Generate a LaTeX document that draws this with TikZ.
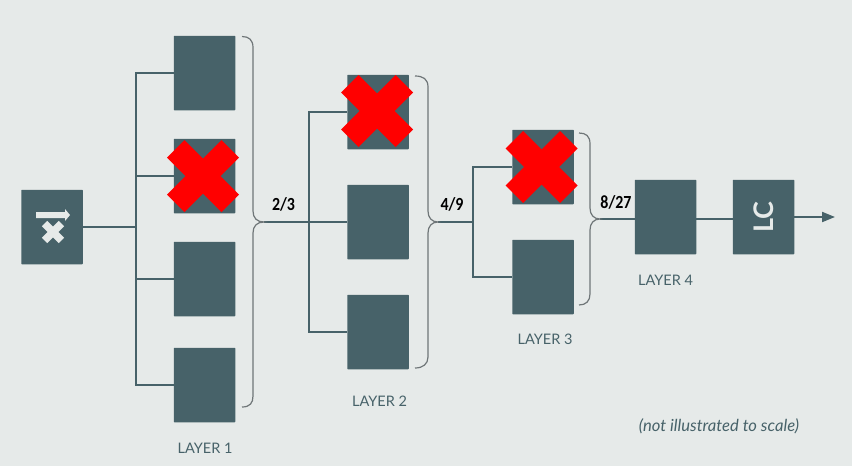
\documentclass[tikz,border=0pt]{standalone}
\usepackage{fontspec}
\setmainfont{Carlito}
\newfontfamily\notefont{Lato}
\newfontfamily\labelfont{Lato}
\usetikzlibrary{arrows.meta}
\definecolor{bgc}{HTML}{E6EAE9}
\definecolor{boxc}{HTML}{476269}
\definecolor{bracec}{HTML}{6F7678}
\tikzset{
  unitbox/.style={draw=none,fill=boxc,rounded corners=0.7pt,minimum width=61.5pt,minimum height=74.5pt,inner sep=0pt,outer sep=0pt},
  wire/.style={draw=boxc,line width=2pt},
  bracket/.style={draw=bracec,line width=1.2pt},
  ratio/.style={font=\fontsize{18.5}{20}\selectfont\bfseries,text=black,inner sep=0pt,xscale=0.86},
  layerlabel/.style={font=\labelfont\fontsize{14.5}{16}\selectfont,text=boxc,inner sep=0pt},
  redcross/.style={fill=red,draw=none},
  whitecross/.style={fill=bgc,draw=none}
}
\newcommand{\crossshape}[3]{%
  \fill[#3,shift={(#1)},scale=#2] (-36,-18.5) -- (-18.5,-36) -- (0,-17.5) -- (18.5,-36) -- (36,-18.5) -- (17.5,0)
    -- (36,18.5) -- (18.5,36) -- (0,17.5) -- (-18.5,36) -- (-36,18.5) -- (-17.5,0) -- cycle;}
\begin{document}
\begin{tikzpicture}[x=1pt,y=-1pt]
\useasboundingbox[fill=bgc] (0,0) rectangle (852,466);
% boxes
\node[unitbox] (inp) at (52,227) {};
\node[unitbox] (a1) at (204.5,73) {};
\node[unitbox] (a2) at (204.5,176) {};
\node[unitbox] (a3) at (204.5,279) {};
\node[unitbox] (a4) at (204.5,385) {};
\node[unitbox] (b1) at (378,112) {};
\node[unitbox] (b2) at (378,222) {};
\node[unitbox] (b3) at (378,332) {};
\node[unitbox] (c1) at (543,167) {};
\node[unitbox] (c2) at (543,277) {};
\node[unitbox] (d) at (665.5,217) {};
\node[unitbox] (lc) at (763.5,217) {};
% junctions
\coordinate (ta) at (136,227);
\coordinate (tb) at (309,222);
\coordinate (tc) at (473,222);
\coordinate (bra) at (264,222);
\coordinate (brb) at (438,222);
\coordinate (brc) at (600,219);
\coordinate (out) at (835,217);
\coordinate (bra1) at (242,36.5);
\coordinate (bra2) at (242,407);
\coordinate (brb1) at (415,76);
\coordinate (brb2) at (415,368);
\coordinate (brc1) at (579,133);
\coordinate (brc2) at (579,305);
% wires
\draw[wire] (inp.east |- ta) -- (ta);
\draw[wire] (ta) |- (a1.west);
\draw[wire] (ta) |- (a2.west);
\draw[wire] (ta) |- (a3.west);
\draw[wire] (ta) |- (a4.west);
\draw[wire] (bra) -- (tb);
\draw[wire] (tb) |- (b1.west);
\draw[wire] (tb) -- (b2.west);
\draw[wire] (tb) |- (b3.west);
\draw[wire] (brb) -- (tc);
\draw[wire] (tc) |- (c1.west);
\draw[wire] (tc) |- (c2.west);
\draw[wire] (brc) -- (d.west |- brc);
\draw[wire] (d.east |- brc) -- (lc.west |- brc);
\draw[wire,-{Triangle[length=13pt,width=10pt]}] (lc.east) -- (out);
% brackets
\draw[bracket] (bra1) .. controls (249,36.5) and (253,40) .. (253,47.5) -- (253,211) .. controls (253,218) and (257,222) .. (bra) .. controls (257,222) and (253,226) .. (253,233) -- (253,396) .. controls (253,403) and (250,407) .. (bra2);
\draw[bracket] (brb1) .. controls (423,76) and (428,79) .. (428,87) -- (428,211) .. controls (428,218) and (432,222) .. (brb) .. controls (432,222) and (428,226) .. (428,233) -- (428,357) .. controls (428,364) and (423,368) .. (brb2);
\draw[bracket] (brc1) .. controls (586,133) and (590,136) .. (590,144) -- (590,208) .. controls (590,215) and (594,219) .. (brc) .. controls (594,219) and (590,223) .. (590,230) -- (590,294) .. controls (590,301) and (586,305) .. (brc2);
% crosses
\crossshape{203,176}{1}{redcross}
\crossshape{377,111}{1}{redcross}
\crossshape{541.5,167}{1}{redcross}
% input icon
\crossshape{53,232}{0.31}{whitecross}
\fill[bgc] (36,212) -- (65,212) -- (65,209) -- (70,215) -- (65,221) -- (65,218) -- (36,218) -- cycle;
% texts
\node[font=\labelfont\fontsize{27}{28}\selectfont\bfseries,text=bgc,rotate=90,inner sep=0pt] (lct) at (lc.center) {LC};
\node[ratio] (r1) at (283.5,204) {2/3};
\node[ratio] (r2) at (452,204) {4/9};
\node[ratio] (r3) at (616,202) {8/27};
\node[layerlabel] (l1) at (205,448) {LAYER 1};
\node[layerlabel] (l2) at (379.5,401) {LAYER 2};
\node[layerlabel] (l3) at (545,339) {LAYER 3};
\node[layerlabel] (l4) at (665.5,280) {LAYER 4};
\node[font=\notefont\itshape\fontsize{16.6}{18}\selectfont,text=boxc,inner sep=0pt] (note) at (719,426) {(not illustrated to scale)};
\end{tikzpicture}
\end{document}
